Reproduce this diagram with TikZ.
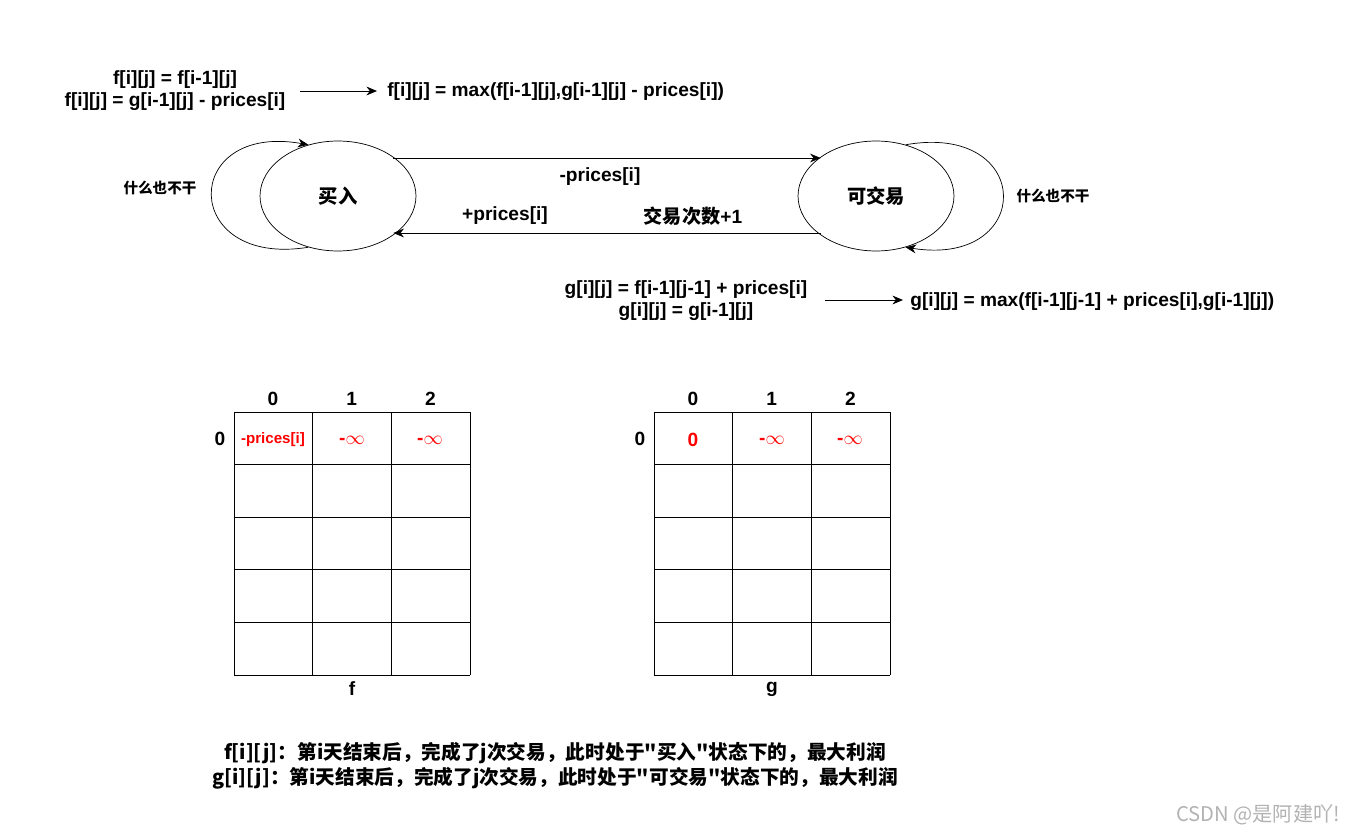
\documentclass[tikz,border=0pt]{standalone}
\usepackage{fontspec}
\setmainfont{Liberation Sans}
\newfontfamily\cjk{Noto Sans CJK SC}
\usetikzlibrary{calc,positioning,shapes.geometric,arrows.meta}
\tikzstyle{state} = [
	ellipse,
	minimum width = 3.12cm,
	minimum height = 2.2cm,
	font = \bfseries\fontsize{11}{12}\selectfont,
	draw
	]
\tikzstyle{eq} = [
	font = \bfseries\fontsize{10.9}{12.6}\selectfont,
	align = center,
	inner sep = 0pt
	]
\tikzstyle{trans} = [
	-{Stealth[length=6pt,width=5pt]},
	draw
	]
\tikzstyle{cellval} = [
	red,
	font = \bfseries\fontsize{10.9}{12}\selectfont
	]
\tikzstyle{note} = [
	font = \bfseries\cjk\fontsize{8.3}{9}\selectfont
	]

\begin{document}
\begin{tikzpicture}[x=0.02cm,y=-0.02cm]
		\useasboundingbox (0,0) rectangle (1370,838);
		% top equations
		\node[eq] (fcase) at (175,91) {f[i][j] = f[i-1][j]\\f[i][j] = g[i-1][j] - prices[i]};
		\node[eq, anchor=west] (fmax) at (387,92) {f[i][j] = max(f[i-1][j],g[i-1][j] - prices[i])};
		\coordinate (fa) at (300,91);
		\draw[trans] (fa) -- (377,91);
		% states
		\node[state] (buy) at (338,196) {\cjk 买入};
		\node[state] (free) at (876,196) {\cjk 可交易};
		\draw[trans] (buy.north east |- 0,158) -- (free.north west |- 0,158);
		\draw[trans] (free.south west |- 0,233) -- (buy.south east |- 0,233);
		\node[eq] (tl) at (600,177) {-prices[i]};
		\node[eq] (pl) at (505,216) {+prices[i]};
		\node[eq] (cnt) at (693,216) {{\cjk 交易次数}+1};
		\draw[trans] (buy.-120) .. controls (180,268) and (180,122) .. (buy.120);
		\draw[trans] (free.60) .. controls (1035,122) and (1035,268) .. (free.-60);
		\node[note] (lidle) at (160,188) {什么也不干};
		\node[note] (ridle) at (1053,196) {什么也不干};
		% bottom equations
		\node[eq] (gcase) at (686,301) {g[i][j] = f[i-1][j-1] + prices[i]\\g[i][j] = g[i-1][j]};
		\node[eq, anchor=west] (gmax) at (910,302) {g[i][j] = max(f[i-1][j-1] + prices[i],g[i-1][j])};
		\coordinate (ga) at (825,300);
		\draw[trans] (ga) -- (903,300);
		% tables
		\foreach \tx/\nm in {234/f,654/g} {
			\foreach \r in {0,...,5}
				\draw ($(\tx,412)+(0,52.6*\r)$) -- ++(236,0);
			\foreach \c in {0,...,3}
				\draw ($(\tx,412)+(78.67*\c,0)$) -- ++(0,263);
			\foreach \c in {0,1,2}
				\node[eq] at ($(\tx,399)+(39+78.67*\c,0)$) {\c};
			\node[eq] at ($(\tx,439)+(-14,0)$) {0};
			\node[eq] at ($(\tx,689)+(118,0)$) {\nm};
			\node[cellval] at ($(\tx,440)+(118,0)$) {-$\infty$};
			\node[cellval] at ($(\tx,440)+(196,0)$) {-$\infty$};
		}
		\node[cellval, font=\bfseries\fontsize{8.6}{10}\selectfont] (fz) at (273,440) {-prices[i]};
		\node[cellval] (gz) at (693,440) {0};
		% legend
		\node[eq, font=\bfseries\cjk\fontsize{11.2}{14}\selectfont] (leg) at (555,766)
			{f[i][j]：第i天结束后，完成了j次交易，此时处于"买入"状态下的，最大利润\\
			 g[i][j]：第i天结束后，完成了j次交易，此时处于"可交易"状态下的，最大利润};
		\node[gray!60, font=\cjk\fontsize{11.5}{12}\selectfont] (wm) at (1258,815) {CSDN @是阿建吖!};
	\end{tikzpicture}
\end{document}
